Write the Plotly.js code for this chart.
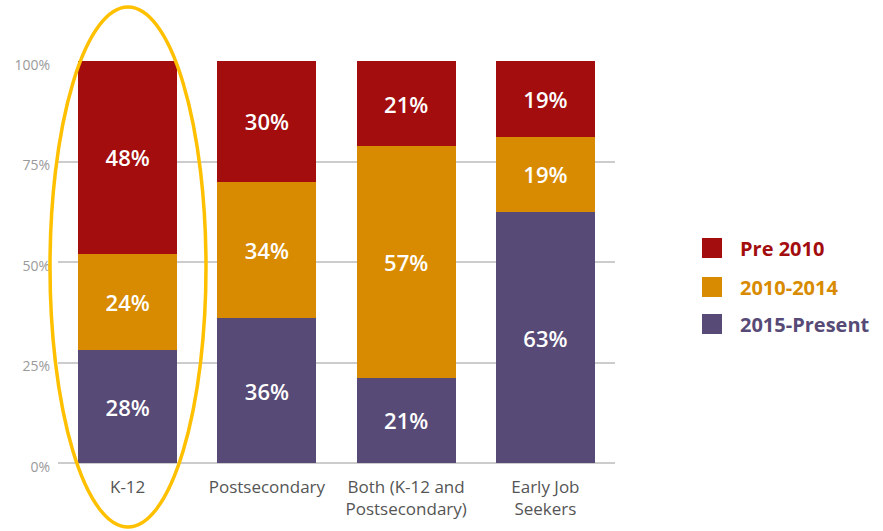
<!DOCTYPE html>
<html>
<head>
<meta charset="utf-8">
<script src="https://cdn.plot.ly/plotly-3.0.1.min.js"></script>
<style>html,body{margin:0;padding:0;background:#fff;}#chart{width:883px;height:531px;}</style>
</head>
<body>
<div id="chart"></div>
<script>
const categories = ["K-12", "Postsecondary", "Both (K-12 and<br>Postsecondary)", "Early Job<br>Seekers"];
const seriesNames = ["2015-Present", "2010-2014", "Pre 2010"];
const present2015 = [28, 36, 21, 63];
const y2010to2014 = [24, 34, 57, 19];
const pre2010 = [48, 30, 21, 19];
const colors = ["#574A76", "#D88B00", "#A30D0D"];
const yTickVals = [0, 25, 50, 75, 100];
const yTickText = ["0%", "25%", "50%", "75%", "100%"];

const seriesValues = [present2015, y2010to2014, pre2010];
const FONT = "Open Sans, Noto Sans, sans-serif";

const traces = seriesValues.map((vals, i) => ({
  type: "bar",
  name: seriesNames[i],
  x: categories,
  y: vals,
  text: vals.map(v => v + "%"),
  textposition: "inside",
  insidetextanchor: "middle",
  textfont: {color: "#ffffff", size: 22, family: FONT, weight: 600},
  marker: {color: colors[i], line: {width: 0}},
  hoverinfo: "skip",
  showlegend: false
}));

const L = 58, R = 615, T = 61, B = 463;
const W = 883, H = 531;
const px = x => (x - L) / (R - L);
const py = y => (B - y) / (B - T);

// custom legend (top-to-bottom: Pre 2010, 2010-2014, 2015-Present)
const legendY = [248, 287, 324];
const shapes = [];
const annotations = [];
for (let k = 0; k < 3; k++) {
  const i = 2 - k;
  const cy = legendY[k];
  shapes.push({type: "rect", xref: "paper", yref: "paper",
    x0: px(702), x1: px(722), y0: py(cy + 10), y1: py(cy - 10),
    fillcolor: colors[i], line: {width: 0}});
  annotations.push({xref: "paper", yref: "paper", x: px(738), y: py(cy),
    xanchor: "left", yanchor: "middle", showarrow: false,
    text: "<b>" + seriesNames[i] + "</b>",
    font: {family: FONT, size: 20, color: colors[i]}});
}
// highlight ellipse around K-12
shapes.push({type: "circle", xref: "paper", yref: "paper",
  x0: px(50), x1: px(206), y0: py(527), y1: py(7),
  line: {color: "#FFC000", width: 3.5}, fillcolor: "rgba(0,0,0,0)", layer: "above"});

const layout = {
  width: W, height: H,
  margin: {l: L, r: W - R, t: T, b: H - B, pad: 0},
  paper_bgcolor: "#ffffff",
  plot_bgcolor: "#ffffff",
  barmode: "stack",
  barnorm: "percent",
  bargap: 0.29,
  showlegend: false,
  font: {family: FONT},
  xaxis: {
    type: "category",
    tickfont: {family: FONT, size: 17, color: "#555555"},
    showgrid: false, showline: false, ticks: "", fixedrange: true,
    ticklabelstandoff: 12
  },
  yaxis: {
    range: [0, 100],
    tickvals: yTickVals, ticktext: yTickText,
    tickfont: {family: FONT, size: 14, color: "#9a9a9a"},
    showgrid: true, gridcolor: "#cccccc", gridwidth: 2,
    zeroline: true, zerolinecolor: "#cccccc", zerolinewidth: 2,
    showline: false, ticks: "", ticklabelstandoff: 7, ticklabelshift: 4,
    fixedrange: true
  },
  shapes: shapes,
  annotations: annotations
};

Plotly.newPlot("chart", traces, layout, {displayModeBar: false, staticPlot: true});
</script>
</body>
</html>
